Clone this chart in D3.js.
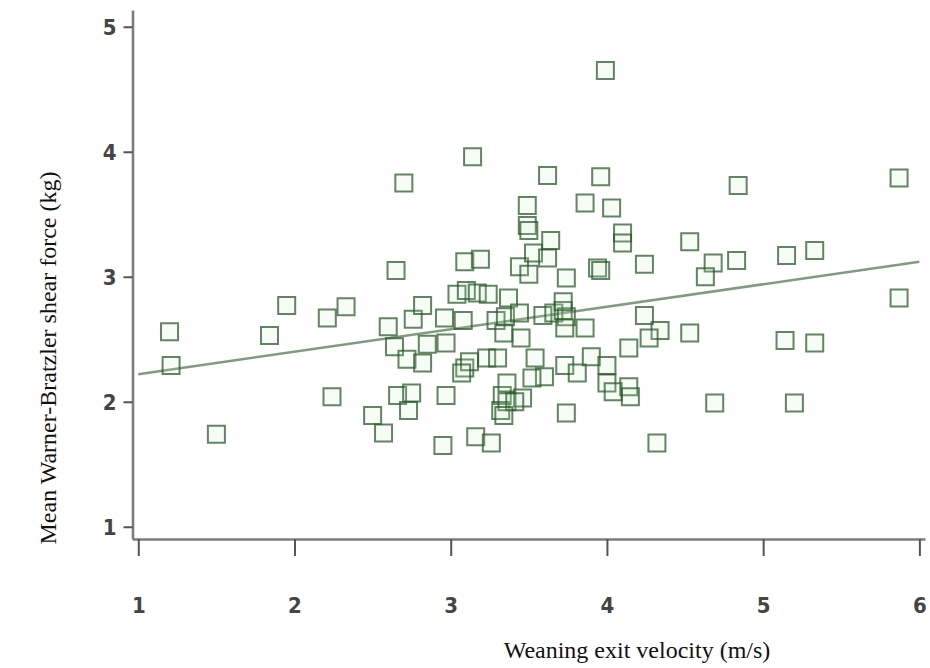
<!DOCTYPE html>
<html>
<head>
<meta charset="utf-8">
<script src="https://cdn.jsdelivr.net/npm/d3@7"></script>
<style>
  body { margin: 0; background: #fff; }
</style>
</head>
<body>
<svg id="chart"></svg>
<script>
// values
const velocity = [1.20,1.21,1.50,1.84,1.95,2.21,2.33,2.24,2.50,2.57,
  2.60,2.65,2.70,2.64,2.66,2.73,2.75,2.72,2.76,2.82,
  2.82,2.85,2.95,2.97,2.96,2.97,3.04,3.10,3.17,3.24,
  3.08,3.09,3.19,3.14,3.09,3.12,3.07,3.23,3.30,3.29,
  3.34,3.16,3.26,3.33,3.32,3.37,3.35,3.44,3.45,3.44,
  3.50,3.49,3.49,3.50,3.53,3.62,3.64,3.62,3.59,3.66,
  3.72,3.74,3.72,3.74,3.73,3.86,3.54,3.73,3.81,3.60,
  3.52,3.36,3.46,3.36,3.41,3.34,3.74,3.90,4.00,4.00,
  4.04,4.14,4.15,4.14,3.86,3.96,4.03,4.10,4.10,3.94,
  3.96,4.24,4.24,4.34,4.27,4.32,4.53,4.68,4.63,4.83,
  4.84,4.53,4.69,5.15,5.33,5.14,5.33,5.20,5.87,5.87,3.99];

const shearForce = [2.56,2.29,1.74,2.53,2.77,2.67,2.76,2.04,1.89,1.75,
  2.60,3.05,3.75,2.44,2.05,1.93,2.07,2.34,2.66,2.77,
  2.31,2.46,1.65,2.05,2.67,2.47,2.86,2.89,2.87,2.86,
  2.65,3.12,3.14,3.96,2.27,2.32,2.23,2.35,2.35,2.65,
  2.55,1.72,1.67,2.05,1.93,2.83,2.68,2.71,2.51,3.08,
  3.02,3.57,3.41,3.37,3.19,3.15,3.29,3.81,2.69,2.71,
  2.73,2.68,2.80,2.99,2.59,2.59,2.35,2.29,2.23,2.20,
  2.19,2.15,2.03,2.00,2.00,1.89,1.91,2.36,2.29,2.15,
  2.08,2.12,2.04,2.43,3.59,3.80,3.55,3.35,3.27,3.07,
  3.05,3.10,2.69,2.57,2.51,1.67,3.28,3.11,3.00,3.13,
  3.73,2.55,1.99,3.17,3.21,2.49,2.47,1.99,3.79,2.83,4.65];

// fit line end points
const fitX = [1, 6];
const fitY = [2.22, 3.12];

const xTicks = [1, 2, 3, 4, 5, 6];
const yTicks = [1, 2, 3, 4, 5];

const width = 930, height = 668;
const marginLeft = 132.5, plotRight = 925, plotTop = 10, plotBottom = 539;

const svg = d3.select("#chart")
  .attr("width", width)
  .attr("height", height)
  .attr("viewBox", [0, 0, width, height]);

const x = d3.scaleLinear().domain([0.963, 6.036]).range([marginLeft, plotRight]);
const y = d3.scaleLinear().domain([0.902, 5.134]).range([plotBottom, plotTop]);

const data = velocity.map((v, i) => ({ v, s: shearForce[i] }));

// fit line
svg.append("line")
  .attr("x1", x(fitX[0])).attr("y1", y(fitY[0]))
  .attr("x2", x(fitX[1])).attr("y2", y(fitY[1]))
  .attr("stroke", "#809c80")
  .attr("stroke-width", 2.5);

// squares
const side = 17;
svg.append("g")
  .selectAll("rect")
  .data(data)
  .join("rect")
  .attr("x", d => x(d.v) - side / 2)
  .attr("y", d => y(d.s) - side / 2)
  .attr("width", side)
  .attr("height", side)
  .attr("fill", "rgba(200,238,200,0.15)")
  .attr("stroke", "rgba(38,88,38,0.72)")
  .attr("stroke-width", 2);

// axes
const axisX = svg.append("g")
  .attr("transform", `translate(0,${plotBottom})`)
  .call(d3.axisBottom(x).tickValues(xTicks).tickFormat(d3.format("d"))
    .tickSizeOuter(0).tickSizeInner(17).tickPadding(41));

const axisY = svg.append("g")
  .attr("transform", `translate(${marginLeft},0)`)
  .call(d3.axisLeft(y).tickValues(yTicks).tickFormat(d3.format("d"))
    .tickSizeOuter(0).tickSizeInner(9).tickPadding(7));

[axisX, axisY].forEach(g => {
  g.select(".domain").attr("stroke", "#7d7d7d").attr("stroke-width", 2.6);
  g.selectAll(".tick line").attr("stroke", "#555").attr("stroke-width", 2);
  g.selectAll(".tick text")
    .attr("fill", "#454545")
    .style("font", "bold 22px 'DejaVu Sans Condensed', 'DejaVu Sans', sans-serif");
});
axisY.selectAll(".tick text").attr("dy", "0.36em");

// titles
svg.append("text")
  .attr("x", 637)
  .attr("y", 658)
  .attr("text-anchor", "middle")
  .attr("fill", "#111")
  .style("font", "24px 'Liberation Serif', serif")
  .text("Weaning exit velocity (m/s)");

svg.append("text")
  .attr("transform", "translate(56,358) rotate(-90)")
  .attr("text-anchor", "middle")
  .attr("fill", "#111")
  .style("font", "24px 'Liberation Serif', serif")
  .text("Mean Warner-Bratzler shear force (kg)");
</script>
</body>
</html>
